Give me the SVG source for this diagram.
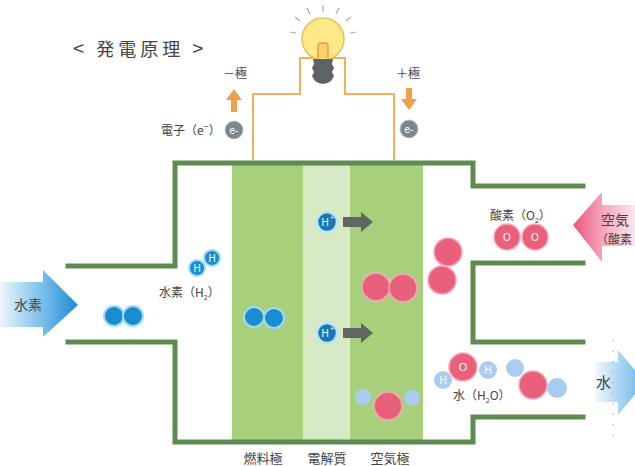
<svg xmlns="http://www.w3.org/2000/svg" width="635" height="466" viewBox="0 0 635 466">
  <defs>
    <linearGradient id="gH2" x1="0" y1="0" x2="1" y2="0">
      <stop offset="0" stop-color="#eef6fc"/>
      <stop offset="0.45" stop-color="#8cc8ee"/>
      <stop offset="1" stop-color="#1d8cd3"/>
    </linearGradient>
    <linearGradient id="gAir" x1="0" y1="0" x2="1" y2="0">
      <stop offset="0" stop-color="#e9557f"/>
      <stop offset="0.5" stop-color="#f6a9bf"/>
      <stop offset="1" stop-color="#fde6ec"/>
    </linearGradient>
    <linearGradient id="gWater" x1="0" y1="0" x2="1" y2="0">
      <stop offset="0" stop-color="#f3f9fd"/>
      <stop offset="1" stop-color="#5fb2e8"/>
    </linearGradient>
    <style>
      text { font-family: "Noto Sans CJK JP", "Noto Sans", sans-serif; fill: #444; }
      .wall { fill: none; stroke: #5e8c50; stroke-width: 5; stroke-linecap: square; }
      .wire { fill: none; stroke: #f2b05a; stroke-width: 2; }
      .h { fill: #1b8cd0; stroke: #9fdcf3; stroke-width: 2; }
      .hl { fill: #a9cdf0; }
      .o { fill: #e8607c; stroke: #f7a9b8; stroke-width: 1.5; }
      .ion { fill: #1a78b8; stroke: #b7e6f7; stroke-width: 2.5; }
      .lbl { font-size: 12px; }
      .w { fill: #fff; font-family: "Liberation Sans", sans-serif; text-anchor: middle; }
      .flow { fill: #5f6762; }
      .pole { fill: #f0a04a; }
    </style>
  </defs>

  <rect width="635" height="466" fill="#ffffff"/>

  <!-- title -->
  <text x="73" y="56" font-size="18" fill="#555" letter-spacing="4"><tspan font-size="20">&lt;</tspan> 発電原理 <tspan font-size="20">&gt;</tspan></text>

  <!-- cell layers -->
  <g id="fuel-electrode">
    <rect x="232" y="163" width="71" height="279" fill="#a8cf7c"/>
  </g>
  <g id="electrolyte">
    <rect x="303" y="163" width="47" height="279" fill="#d8e9c5"/>
  </g>
  <g id="air-electrode">
    <rect x="350" y="163" width="73" height="279" fill="#a8cf7c"/>
  </g>

  <!-- cell housing -->
  <g id="housing">
    <path class="wall" d="M68,266 H175 V163 H473 V186 H583"/>
    <path class="wall" d="M68,342 H175 V442 H473 V417 H583"/>
    <path class="wall" d="M583,263 H473 V342 H583"/>
  </g>

  <!-- external circuit and flow arrows -->
  <g id="connectors">
    <path class="wire" d="M253,161 V94 H300 V58 H345 V94 H394 V161"/>
    <polygon class="pole" points="231,112 231,100 226,100 234,89 242,100 237,100 237,112"/>
    <polygon class="pole" points="406,88 406,99 401,99 409,110 417,99 412,99 412,88"/>
    <polygon class="flow" points="343,217 361,217 361,212 373,222 361,232 361,227 343,227"/>
    <polygon class="flow" points="343,328 361,328 361,323 373,333 361,343 361,338 343,338"/>
  </g>

  <!-- lamp -->
  <g id="lamp">
    <g stroke="#a8a8a8" stroke-width="1.2">
      <line x1="323" y1="12" x2="323" y2="5"/>
      <line x1="310" y1="14" x2="307" y2="8"/>
      <line x1="336" y1="14" x2="339" y2="8"/>
      <line x1="300" y1="21" x2="295" y2="17"/>
      <line x1="346" y1="21" x2="351" y2="17"/>
      <line x1="296" y1="33" x2="290" y2="32"/>
      <line x1="350" y1="33" x2="356" y2="32"/>
    </g>
    <circle cx="323" cy="39" r="21" fill="#fde88a" stroke="#e6c25a" stroke-width="1.5"/>
    <path d="M318,58 V46 Q318,43 321,43 H325 Q328,43 328,46 V58" fill="#fbd16a" stroke="#ee9a3e" stroke-width="1.5"/>
    <path d="M313,59 H333 L332,64 L334,68 L332,72 L334,76 L331,81 Q323,87 315,81 L312,76 L314,72 L312,68 L314,64 Z" fill="#5d6468"/>
  </g>

  <!-- poles and electrons -->
  <g id="minus-pole">
    <text x="235" y="78" font-size="12" text-anchor="middle">－極</text>
    <circle cx="234" cy="130" r="9" fill="#7c878d" stroke="#b9c1c4" stroke-width="1"/>
    <text x="234" y="134" font-size="10" class="w">e-</text>
    <text x="161" y="135" font-size="12">電子（e<tspan font-size="9" dy="-5">−</tspan><tspan dy="5">）</tspan></text>
  </g>
  <g id="plus-pole">
    <text x="408" y="78" font-size="12" text-anchor="middle">＋極</text>
    <circle cx="409" cy="129" r="9" fill="#7c878d" stroke="#b9c1c4" stroke-width="1"/>
    <text x="409" y="133" font-size="10" class="w">e-</text>
  </g>

  <!-- hydrogen inlet -->
  <g id="hydrogen-inlet">
    <polygon points="0,282 43,282 43,270 78,305 43,337 43,327 0,327" fill="url(#gH2)"/>
    <text x="14" y="310" font-size="14">水素</text>
    <circle class="h" cx="114" cy="316" r="10"/>
    <circle class="h" cx="133" cy="316" r="10"/>
  </g>

  <g id="hydrogen-molecule">
    <circle class="h" cx="212" cy="258" r="8"/>
    <circle class="h" cx="197" cy="268" r="8"/>
    <text x="212" y="262" font-size="10" class="w">H</text>
    <text x="197" y="272" font-size="10" class="w">H</text>
    <text x="159" y="297" class="lbl">水素（H<tspan font-size="7" dy="3">2</tspan><tspan dy="-3">）</tspan></text>
  </g>

  <g id="fuel-hydrogen">
    <circle class="h" cx="254" cy="317" r="10"/>
    <circle class="h" cx="274" cy="318" r="10"/>
  </g>

  <!-- protons -->
  <g id="proton-1">
    <circle class="ion" cx="327" cy="222" r="10"/>
    <text x="325" y="226" font-size="10" class="w">H</text>
    <text x="332" y="220" font-size="7" class="w">+</text>
  </g>
  <g id="proton-2">
    <circle class="ion" cx="327" cy="333" r="10"/>
    <text x="325" y="337" font-size="10" class="w">H</text>
    <text x="332" y="331" font-size="7" class="w">+</text>
  </g>

  <!-- oxygen on air electrode -->
  <g id="air-oxygen">
    <circle class="o" cx="376" cy="287" r="14"/>
    <circle class="o" cx="403" cy="288" r="14"/>
  </g>
  <g id="oxygen-pair">
    <circle class="o" cx="448" cy="252" r="14"/>
    <circle class="o" cx="442" cy="280" r="14"/>
  </g>
  <g id="water-forming">
    <circle class="hl" cx="363" cy="397" r="8"/>
    <circle class="hl" cx="412" cy="398" r="8"/>
    <circle class="o" cx="388" cy="406" r="14"/>
  </g>

  <!-- air inlet -->
  <g id="air-inlet">
    <polygon points="635,205 602,205 602,192 573,225 602,262 602,246 635,246" fill="url(#gAir)"/>
    <text x="601" y="225" font-size="14">空気</text>
    <text x="596" y="244" font-size="12">（酸素</text>
  </g>
  <g id="oxygen-molecule">
    <text x="490" y="220" class="lbl">酸素（O<tspan font-size="7" dy="3">2</tspan><tspan dy="-3">）</tspan></text>
    <circle class="o" cx="507" cy="237" r="13"/>
    <circle class="o" cx="535" cy="237" r="13"/>
    <text x="507" y="241" font-size="10" class="w">O</text>
    <text x="535" y="241" font-size="10" class="w">O</text>
  </g>

  <!-- water outlet -->
  <g id="water-molecule">
    <circle class="hl" cx="443" cy="380" r="9"/>
    <circle class="o" cx="463" cy="367" r="14"/>
    <circle class="hl" cx="488" cy="370" r="9"/>
    <text x="443" y="384" font-size="10" class="w">H</text>
    <text x="463" y="371" font-size="11" class="w">O</text>
    <text x="488" y="374" font-size="10" class="w">H</text>
    <text x="453" y="400" class="lbl">水（H<tspan font-size="7" dy="3">2</tspan><tspan dy="-3">O）</tspan></text>
  </g>
  <g id="water-out">
    <circle class="hl" cx="515" cy="368" r="9"/>
    <circle class="o" cx="533" cy="385" r="14"/>
    <circle class="hl" cx="557" cy="388" r="10"/>
  </g>
  <g id="water-outlet">
    <polygon points="595,362 618,362 618,350 645,382 618,415 618,402 595,402" fill="url(#gWater)"/>
    <line x1="613" y1="340" x2="613" y2="440" stroke="#9aa0a4" stroke-width="1" stroke-dasharray="1.5,9"/>
    <text x="596" y="388" font-size="15">水</text>
  </g>

  <!-- layer labels -->
  <g id="layer-labels">
    <text x="263" y="463" text-anchor="middle" font-size="13">燃料極</text>
    <text x="327" y="463" text-anchor="middle" font-size="13">電解質</text>
    <text x="390" y="463" text-anchor="middle" font-size="13">空気極</text>
  </g>
</svg>
